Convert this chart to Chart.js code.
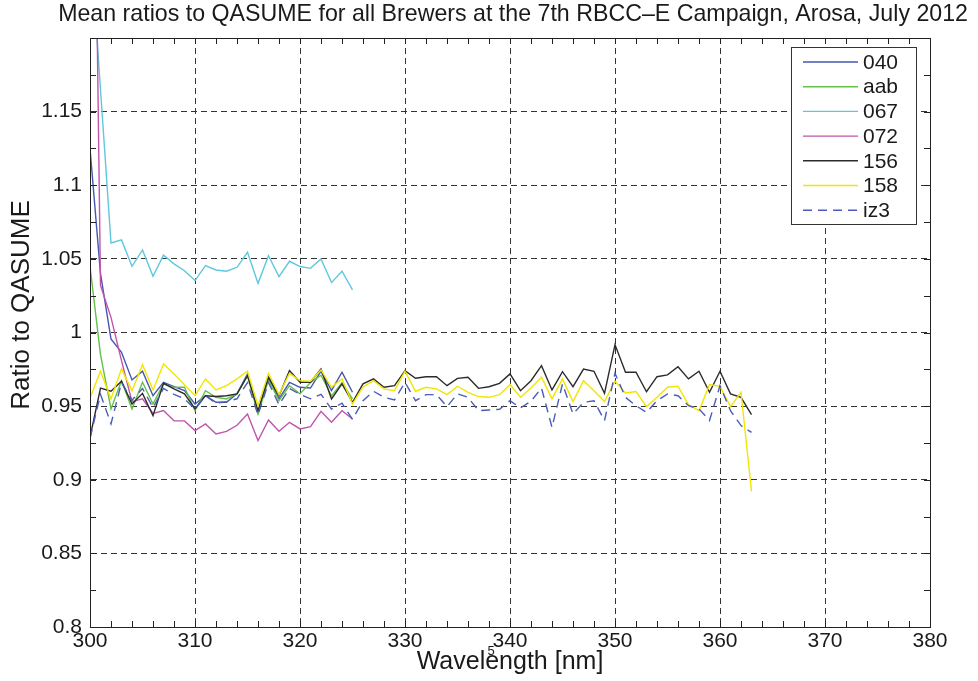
<!DOCTYPE html>
<html><head><meta charset="utf-8">
<script src="https://cdn.jsdelivr.net/npm/chart.js@4/dist/chart.umd.min.js"></script>
<style>html,body{margin:0;padding:0;background:#fff;}</style>
</head><body>
<canvas id="c" width="978" height="681"></canvas>
<script>
// ---- data ----
const titleText = 'Mean ratios to QASUME for all Brewers at the 7th RBCC\u2013E Campaign, Arosa, July 2012';
const xTitleText = 'Wavelength [nm]';
const yTitleText = 'Ratio to QASUME';
const wavelengthsShort = [300,301,302,303,304,305,306,307,308,309,310,311,312,313,314,315,316,317,318,319,320,321,322,323,324,325];
const wavelengthsLong = [300,301,302,303,304,305,306,307,308,309,310,311,312,313,314,315,316,317,318,319,320,321,322,323,324,325,
  326,327,328,329,330,331,332,333,334,335,336,337,338,339,340,341,342,343,344,345,346,347,348,349,350,351,352,353,354,355,356,357,358,359,360,361,362,363];
const seriesNames = ['040','aab','067','072','156','158','iz3'];
const yTickValues = [0.8,0.85,0.9,0.95,1,1.05,1.1,1.15];
const xTickValues = [300,310,320,330,340,350,360,370,380];

const ratio040 = [1.125,1.04,0.9956,0.9866,0.9678,0.9737,0.9571,0.9662,0.9632,0.9605,0.9515,0.9571,0.9526,0.9526,0.9583,0.9719,0.9458,0.9696,0.9549,0.9662,0.9628,0.9623,0.9737,0.9605,0.9730,0.9594];
const ratioAab = [1.045,0.985,0.9481,0.9673,0.9481,0.9662,0.9515,0.9651,0.9628,0.9628,0.9469,0.9605,0.9560,0.9549,0.9583,0.9707,0.9447,0.9678,0.9537,0.9639,0.9583,0.966,0.971,0.957,0.966,0.955];
const ratio067 = [1.27,1.165,1.0608,1.0629,1.0450,1.0561,1.0382,1.0525,1.0466,1.042,1.0353,1.0455,1.0425,1.0416,1.0443,1.0545,1.0334,1.0522,1.0380,1.0484,1.0448,1.0436,1.0500,1.0339,1.0416,1.0289];
const ratio072 = [1.58,1.032,1.0103,0.9809,0.953,0.955,0.945,0.947,0.940,0.940,0.9334,0.9379,0.9311,0.9329,0.937,0.9447,0.9266,0.9406,0.9329,0.9390,0.9345,0.9361,0.9465,0.9390,0.9469,0.9413];
const ratio156 = [0.9288,0.9623,0.9601,0.9669,0.9515,0.9587,0.9435,0.9655,0.9617,0.9583,0.9481,0.9571,0.9565,0.9571,0.9583,0.9707,0.9469,0.9696,0.9571,0.9741,0.9662,0.9662,0.9752,0.9549,0.9651,0.9526,
  0.9651,0.9685,0.9628,0.9639,0.9741,0.9689,0.9700,0.9700,0.9639,0.9689,0.9696,0.9621,0.9632,0.9655,0.9719,0.9605,0.9673,0.9775,0.9610,0.9734,0.9632,0.9752,0.9737,0.9587,0.9918,0.9730,0.9730,0.9598,0.9700,0.9712,0.9768,0.9685,0.9737,0.9594,0.9737,0.9583,0.9560,0.9442];
const ratio158 = [0.9555,0.9737,0.9549,0.9753,0.9605,0.9782,0.9610,0.9786,0.9719,0.9646,0.9571,0.9685,0.9610,0.9639,0.9685,0.9737,0.9503,0.9723,0.9578,0.9723,0.9673,0.9669,0.9746,0.9628,0.9685,0.9515,
  0.963,0.9673,0.9617,0.9605,0.9737,0.9601,0.9628,0.9617,0.9578,0.9635,0.9594,0.9565,0.9560,0.9578,0.9646,0.9560,0.9623,0.9696,0.9549,0.9685,0.9531,0.9673,0.9605,0.9531,0.9669,0.9589,0.9599,0.9497,0.9560,0.9628,0.9635,0.9510,0.9469,0.9646,0.9635,0.9497,0.9594,0.8921];
const ratioIz3 = [0.928,0.958,0.938,0.966,0.954,0.962,0.949,0.962,0.958,0.955,0.948,0.957,0.952,0.953,0.955,0.966,0.944,0.966,0.951,0.962,0.958,0.955,0.958,0.948,0.952,0.941,
  0.9537,0.9601,0.9560,0.9542,0.9662,0.9537,0.9578,0.9578,0.9497,0.9583,0.9560,0.9469,0.9474,0.9478,0.9537,0.9488,0.9533,0.9623,0.9356,0.9651,0.9447,0.9526,0.9537,0.9402,0.9723,0.9560,0.9503,0.9458,0.9537,0.9583,0.9571,0.9503,0.9481,0.9402,0.9639,0.9469,0.9368,0.9322];

// ---- styles ----
const FONT = '"Liberation Sans", Arial, Helvetica, sans-serif';
const TEXT = '#1a1a1a';
const styles = [
  {color:'#4656b0', dash:[]},
  {color:'#63c14a', dash:[]},
  {color:'#5fc8dc', dash:[]},
  {color:'#c055ac', dash:[]},
  {color:'#2b2b2b', dash:[]},
  {color:'#f2e600', dash:[]},
  {color:'#4a5cb8', dash:[9,6]}
];
const seriesValues = [ratio040, ratioAab, ratio067, ratio072, ratio156, ratio158, ratioIz3];
const seriesX = [wavelengthsShort, wavelengthsShort, wavelengthsShort, wavelengthsShort, wavelengthsLong, wavelengthsLong, wavelengthsLong];

const datasets = seriesNames.map((name, i) => ({
  label: name,
  data: seriesValues[i].map((v, k) => ({x: seriesX[i][k], y: v})),
  borderColor: styles[i].color,
  borderDash: styles[i].dash,
  borderWidth: 1.4,
  pointRadius: 0,
  tension: 0,
  fill: false,
  yAxisID: 'y',
  order: seriesNames.length - i
}));

const fmt = v => {
  if (Math.abs(v - 1.2) < 1e-6) return '';
  return String(Number(v.toFixed(3)));
};

const framePlugin = {
  id: 'frame',
  afterDatasetsDraw(chart) {
    const {ctx, chartArea: a, scales} = chart;
    ctx.save();
    ctx.strokeStyle = '#222';
    ctx.lineWidth = 1;
    ctx.setLineDash([]);
    ctx.strokeRect(Math.round(a.left) + 0.5, Math.round(a.top) + 0.5, Math.round(a.right - a.left), Math.round(a.bottom - a.top));
    const L = 6;
    ctx.beginPath();
    for (let v = 300; v <= 380; v += 2) {
      const x = Math.round(scales.x.getPixelForValue(v)) + 0.5;
      ctx.moveTo(x, a.bottom); ctx.lineTo(x, a.bottom - L);
      ctx.moveTo(x, a.top); ctx.lineTo(x, a.top + L);
    }
    for (let k = 0; k <= 16; k++) {
      const y = Math.round(scales.y.getPixelForValue(0.8 + k * 0.025)) + 0.5;
      ctx.moveTo(a.left, y); ctx.lineTo(a.left + L, y);
      ctx.moveTo(a.right, y); ctx.lineTo(a.right - L, y);
    }
    ctx.stroke();
    ctx.restore();
  },
  afterDraw(chart) {
    const ctx = chart.ctx;
    ctx.save();
    // legend box inside the axes
    const x0 = 791, y0 = 47, w = 125, h = 177;
    ctx.fillStyle = '#fff';
    ctx.fillRect(x0, y0, w, h);
    ctx.strokeStyle = '#333';
    ctx.lineWidth = 1;
    ctx.strokeRect(x0 + 0.5, y0 + 0.5, w, h);
    chart.data.datasets.forEach((ds, i) => {
      const y = 62 + i * 24.7;
      ctx.strokeStyle = ds.borderColor;
      ctx.lineWidth = 1.4;
      ctx.setLineDash(ds.borderDash || []);
      ctx.beginPath(); ctx.moveTo(803, y); ctx.lineTo(858, y); ctx.stroke();
      ctx.setLineDash([]);
      ctx.fillStyle = TEXT;
      ctx.font = '21px ' + FONT;
      ctx.textBaseline = 'middle';
      ctx.textAlign = 'left';
      ctx.fillText(ds.label, 863, y + 1);
    });
    // y-axis title
    ctx.save();
    ctx.translate(22, 305);
    ctx.rotate(-Math.PI / 2);
    ctx.font = '26px ' + FONT;
    ctx.fillStyle = TEXT;
    ctx.textAlign = 'center';
    ctx.textBaseline = 'middle';
    ctx.fillText(yTitleText, 0, 0);
    ctx.restore();
    // small stray label under the axis
    ctx.font = '13px ' + FONT;
    ctx.fillStyle = TEXT;
    ctx.textAlign = 'center';
    ctx.textBaseline = 'middle';
    ctx.fillText('5', 491, 651);
    ctx.restore();
  }
};

new Chart(document.getElementById('c'), {
  type: 'line',
  data: {datasets},
  options: {
    responsive: false,
    animation: false,
    devicePixelRatio: 1,
    layout: {padding: {left: 0, right: 10, top: 0, bottom: 0}},
    plugins: {
      legend: {display: false},
      tooltip: {enabled: false},
      title: {
        display: true, text: titleText, fullSize: true, align: 'end', color: TEXT,
        font: {family: FONT, size: 23.2, weight: 'normal'},
        padding: {top: 1, bottom: 9.2}
      }
    },
    scales: {
      x: {
        type: 'linear', min: 300, max: 380,
        afterBuildTicks(s) { s.ticks = xTickValues.map(v => ({value: v})); },
        ticks: {color: TEXT, font: {family: FONT, size: 21}, padding: 2, maxRotation: 0, autoSkip: false},
        grid: {color: '#333', lineWidth: 1, drawTicks: false},
        border: {display: true, color: '#222', width: 1, dash: [6, 4]},
        title: {display: true, text: xTitleText, color: TEXT, font: {family: FONT, size: 25}, padding: {top: 0, bottom: 3.5}},
        afterFit(s) { s.height = 54; }
      },
      y: {
        type: 'linear', position: 'left', min: 0.8, max: 1.2,
        afterBuildTicks(s) { s.ticks = yTickValues.concat([1.2]).map(v => ({value: v})); },
        ticks: {color: TEXT, font: {family: FONT, size: 21}, padding: 8, callback: fmt},
        grid: {color: '#333', lineWidth: 1, drawTicks: false},
        border: {display: true, color: '#222', width: 1, dash: [6, 4]},
        title: {display: false},
        afterFit(s) { s.width = 90; }
      },
      yRight: {
        type: 'linear', position: 'right', min: 0.8, max: 1.2,
        ticks: {display: false},
        grid: {display: false, drawOnChartArea: false, drawTicks: false},
        border: {display: false},
        title: {display: false},
        afterFit(s) { s.width = 38; }
      }
    }
  },
  plugins: [framePlugin]
});
</script>
</body></html>
